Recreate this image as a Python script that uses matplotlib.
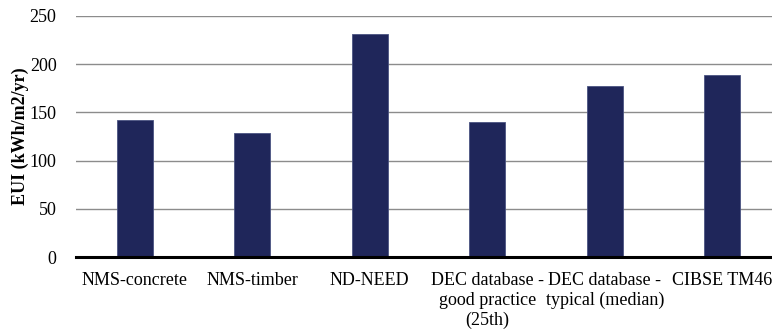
import matplotlib
matplotlib.use("Agg")
import matplotlib.pyplot as plt

categories = ["NMS-concrete", "NMS-timber", "ND-NEED",
              "DEC database -\ngood practice\n(25th)",
              "DEC database -\ntypical (median)", "CIBSE TM46"]
eui_values = [142, 129, 231, 140, 177, 189]
y_ticks = [0, 50, 100, 150, 200, 250]

plt.rcParams["font.family"] = ["Liberation Serif", "DejaVu Serif"]

W, H = 772, 332
fig = plt.figure(figsize=(W / 100, H / 100), dpi=100)
left, right, bottom, top = 76, 781, 257, 16
ax = fig.add_axes([left / W, 1 - bottom / H, (right - left) / W, (bottom - top) / H])

x = list(range(len(categories)))
ax.bar(x, eui_values, width=0.31, color="#1f265a", edgecolor="#4a5382",
       linewidth=0.6, zorder=3)

ax.set_xlim(-0.5, len(categories) - 0.5)
ax.set_ylim(0, 250)
ax.set_yticks(y_ticks)
ax.set_yticklabels([str(v) for v in y_ticks], fontsize=13)
ax.set_xticks(x)
ax.set_xticklabels(categories, fontsize=13, linespacing=1.2, va="top")
ax.tick_params(axis="x", length=0, pad=11)
ax.tick_params(axis="y", length=0, pad=14)

ax.yaxis.grid(True, color="#8c8c8c", linewidth=1.0, zorder=0)
for s in ["top", "right", "left"]:
    ax.spines[s].set_visible(False)
ax.spines["bottom"].set_linewidth(2.2)
ax.spines["bottom"].set_color("black")
ax.spines["bottom"].set_zorder(4)

fig.text(20 / W, 1 - 136.5 / H, "EUI (kWh/m2/yr)", fontsize=13,
         fontweight="bold", rotation=90, ha="center", va="center")

fig.savefig("out.png", dpi=100)
